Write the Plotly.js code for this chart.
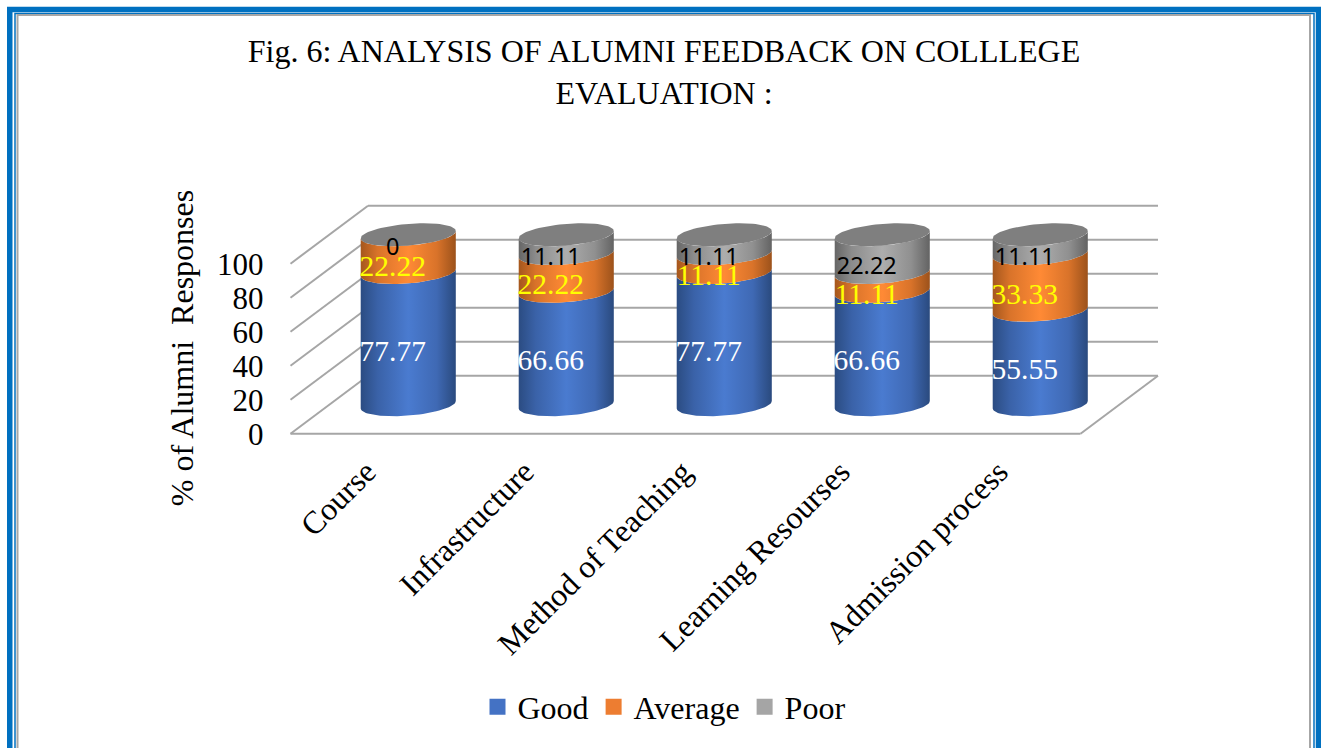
<!DOCTYPE html>
<html><head><meta charset="utf-8">
<script src="https://cdn.plot.ly/plotly-3.0.1.min.js"></script>
<style>html,body{margin:0;padding:0;background:#fff;overflow:hidden}#c{width:1321px;height:748px}</style>
</head><body><div id="c"></div>
<script>
const categories = ["Course","Infrastructure","Method of Teaching","Learning Resourses","Admission process"];
const good = [77.77,66.66,77.77,66.66,55.55];
const average = [22.22,22.22,11.11,11.11,33.33];
const poor = [0,11.11,11.11,22.22,11.11];
const yTicks = [0,20,40,60,80,100];
const seriesNames = ["Good","Average","Poor"];

const W=1321,H=748,SERIF='"Liberation Serif","Times New Roman",serif';
// page geometry of the oblique plot box
const X0=369.5,CAT=158,Y0=433.7,UNIT=1.70,DX=77.5/CAT,DY=58/UNIT,AXIS_BOTTOM=696;
const xRange=[(0-X0)/CAT,(W-X0)/CAT], yRange=[(Y0-AXIS_BOTTOM)/UNIT,Y0/UNIT];
const px=p=>p/W, py=p=>1-p/H;
const proj=(c,v,d)=>[c+d*DX,v+d*DY];

const traces=[];
// walls and floor
const wx=[],wy=[];
function seg(a,b){wx.push(a[0],b[0],null);wy.push(a[1],b[1],null);}
const cL=-0.5,cR=categories.length-0.5;
yTicks.forEach(v=>{seg(proj(cL,v,0),proj(cL,v,1));seg(proj(cL,v,1),proj(cR,v,1));});
seg(proj(cL,0,0),proj(cR,0,0));seg(proj(cR,0,0),proj(cR,0,1));
traces.push({type:'scatter',mode:'lines',x:wx,y:wy,line:{color:'#a6a6a6',width:2},hoverinfo:'skip',showlegend:false});

// cylinders
const A=45/CAT,B=0.198,T=Math.atan2(B*DX*CAT,A*CAT),N=40;
function ring(c,v,t){return [c+A*Math.cos(t)+DX*(0.5+B*Math.sin(t)),v+DY*(0.5+B*Math.sin(t))];}
function body(c,lo,hi){
  const xs=[],ys=[];
  for(let i=0;i<=N;i++){const p=ring(c,lo,T-Math.PI*i/N);xs.push(p[0]);ys.push(p[1]);}
  for(let i=0;i<=N;i++){const p=ring(c,hi,T-Math.PI+Math.PI*i/N);xs.push(p[0]);ys.push(p[1]);}
  xs.push(xs[0]);ys.push(ys[0]);
  return [xs,ys];
}
function cap(c,v){
  const xs=[],ys=[];
  for(let i=0;i<=2*N;i++){const p=ring(c,v,Math.PI*i/N);xs.push(p[0]);ys.push(p[1]);}
  return [xs,ys];
}
const ramps=[
  [[0,'#2b4c82'],[0.18,'#3a62a8'],[0.5,'#4a7bd0'],[0.8,'#3f69b4'],[1,'#2a4a7e']],
  [[0,'#a5571d'],[0.18,'#d9732a'],[0.5,'#ff8a35'],[0.8,'#d9732a'],[1,'#9c521b']],
  [[0,'#666666'],[0.18,'#8c8c8c'],[0.5,'#adadad'],[0.8,'#909090'],[1,'#636363']]
];
const stacks=[good,average,poor];
categories.forEach((_,c)=>{
  let lo=0;
  stacks.forEach((s,k)=>{
    const hi=lo+s[c],[xs,ys]=body(c,lo,hi);
    if(s[c]>0) traces.push({type:'scatter',mode:'lines',x:xs,y:ys,fill:'toself',line:{width:0},
      fillgradient:{type:'horizontal',colorscale:ramps[k]},hoverinfo:'skip',showlegend:false});
    lo=hi;
  });
  const [xs,ys]=cap(c,lo);
  traces.push({type:'scatter',mode:'lines',x:xs,y:ys,fill:'toself',fillcolor:'#7f7f7f',line:{width:0},hoverinfo:'skip',showlegend:false});
});

// data labels
const labelStyle=[{family:SERIF,size:29.5,color:'#ffffff'},{family:SERIF,size:29.5,color:'#ffff00'},{family:'"Noto Sans",sans-serif',size:23.5,color:'#000000'}];
const LABEL_DEPTH=0.3,LABEL_DROP=3/UNIT;
stacks.forEach((s,k)=>{
  const xs=[],ys=[];
  categories.forEach((_,c)=>{
    let base=0;for(let j=0;j<k;j++)base+=stacks[j][c];
    const p=proj(c,base+s[c]/2,LABEL_DEPTH);xs.push(p[0]);ys.push(p[1]-LABEL_DROP);
  });
  traces.push({type:'scatter',mode:'text',x:xs,y:ys,text:s.map(String),textposition:'middle center',textfont:labelStyle[k],hoverinfo:'skip',showlegend:false,cliponaxis:false});
});

// legend entries
const legendColors=['#4472c4','#ed7d31','#a5a5a5'];
seriesNames.forEach((n,k)=>traces.push({type:'scatter',mode:'markers',name:n,x:[null],y:[null],marker:{symbol:'square',size:16,color:legendColors[k]}}));

function frame(x0,y0,x1,color,w){return {type:'rect',xref:'paper',yref:'paper',x0:px(x0),x1:px(x1),y0:py(y0),y1:py(H+20),line:{color:color,width:w},fillcolor:'rgba(0,0,0,0)',layer:'below'};}

const layout={
  width:W,height:H,margin:{l:0,r:0,t:0,b:0,pad:0},paper_bgcolor:'#fff',plot_bgcolor:'rgba(0,0,0,0)',
  title:{text:'Fig. 6: ANALYSIS OF ALUMNI FEEDBACK ON COLLLEGE<br>EVALUATION :',font:{family:SERIF,size:32,color:'#000'},x:px(664),xanchor:'center',y:py(62),yanchor:'top',xref:'paper',yref:'paper'},
  showlegend:true,
  legend:{orientation:'h',x:px(664),xanchor:'center',y:py(707),yanchor:'middle',font:{family:SERIF,size:32,color:'#000'},bgcolor:'rgba(0,0,0,0)'},
  xaxis:{type:'linear',range:xRange,fixedrange:true,showgrid:false,zeroline:false,showline:false,anchor:'free',position:py(Y0),
    tickmode:'array',tickvals:categories.map((_,i)=>i-3/CAT),ticktext:categories,tickangle:-45,ticks:'',ticklabelstandoff:12,
    tickfont:{family:SERIF,size:32,color:'#000'}},
  yaxis:{type:'linear',range:yRange,domain:[py(AXIS_BOTTOM),1],fixedrange:true,showgrid:false,zeroline:false,showline:false,anchor:'free',position:px(X0-CAT/2),
    tickmode:'array',tickvals:yTicks,ticks:'',ticklabelstandoff:27,tickfont:{family:SERIF,size:31,color:'#000'},
    title:{text:'% of Alumni\u00a0 Responses',font:{family:SERIF,size:32,color:'#000'},standoff:12}},
  shapes:[frame(9.75,9.5,1318.5,'#0070c0',5.5),frame(15,13.5,1314,'#0070c0',1.5),frame(17.5,15,1310,'#a6a6a6',2)]
};
Plotly.newPlot('c',traces,layout,{displayModeBar:false,staticPlot:true});
</script></body></html>
